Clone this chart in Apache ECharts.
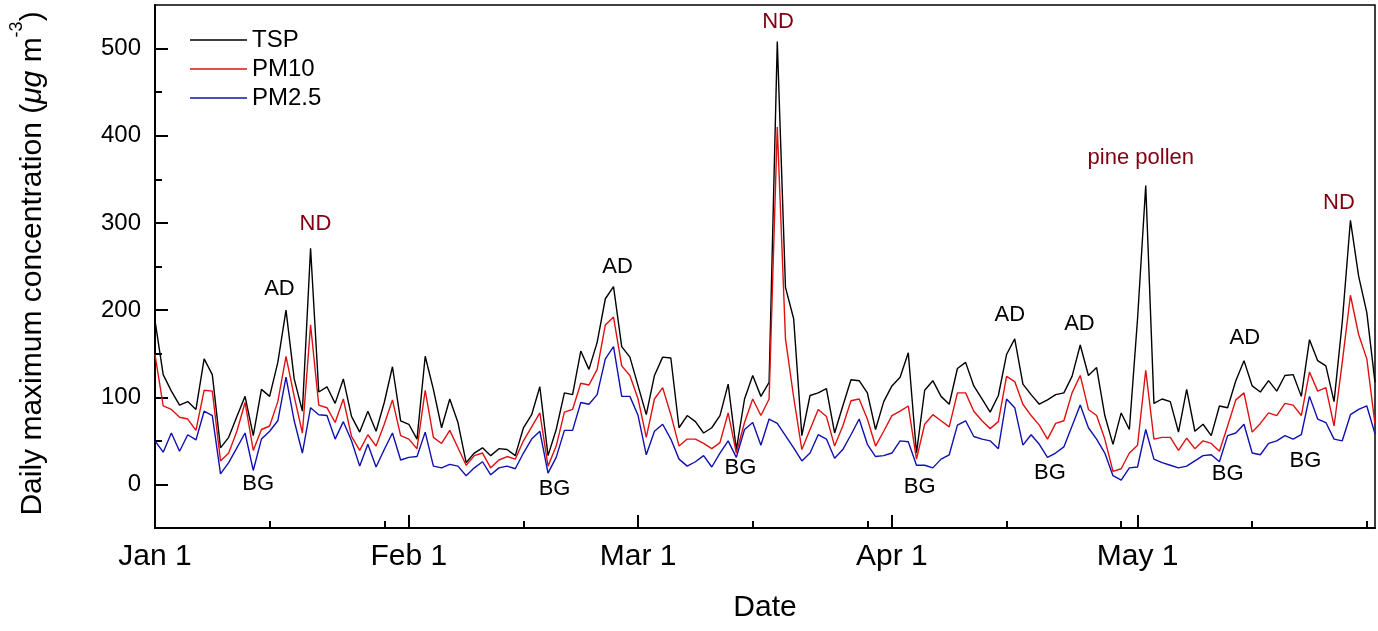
<!DOCTYPE html>
<html>
<head>
<meta charset="utf-8">
<script src="https://cdn.jsdelivr.net/npm/echarts@6/dist/echarts.min.js"></script>
<style>
html,body{margin:0;padding:0;background:#fff;}
#chart{width:1378px;height:631px;}
</style>
</head>
<body>
<div id="chart"></div>
<script>
// Day offsets from Jan 1 (index = day number)
const monthTicks = [0, 31, 59, 90, 120];
const monthLabels = ['Jan 1', 'Feb 1', 'Mar 1', 'Apr 1', 'May 1'];
const minorDayTicks = [14, 28, 45, 73, 87, 104, 118, 134, 148];
const yMajorTicks = [0, 100, 200, 300, 400, 500];
const yMinorTicks = [50, 150, 250, 350, 450];

const tsp = [188,126,107,91,95,86,144,126,42,54,78,101,56,109,101,140,200,121,84,271,
106,112,93,121,78,60,84,61,94,135,73,69,52,147,109,65,98,71,25,36,
42,33,41,40,33,65,80,112,33,63,105,103,153,132,163,213,227,158,146,113,
80,125,146,145,65,79,72,59,65,79,115,40,98,125,101,117,508,226,190,56,
102,105,110,59,90,120,119,105,63,95,113,123,151,36,108,119,101,92,133,140,
113,98,83,102,149,167,115,103,92,97,103,105,124,160,125,134,79,46,82,63,
190,343,93,98,95,60,109,61,69,56,90,88,119,142,113,106,119,107,125,126,
101,166,142,136,95,186,303,239,197,117];

const pm10 = [149,90,86,77,75,62,108,107,27,36,61,94,39,63,67,95,147,101,59,183,
91,88,71,98,55,39,57,44,69,97,56,52,41,108,54,47,62,42,22,33,
36,19,28,32,29,50,66,82,21,44,83,86,116,114,132,183,192,136,125,98,
54,98,111,80,44,52,52,47,41,48,82,36,71,98,79,98,410,167,100,40,
63,86,78,44,67,96,98,75,44,61,79,84,90,29,69,80,73,66,105,105,
84,73,64,72,124,118,92,79,68,52,70,73,105,125,86,79,52,15,18,36,
45,131,52,54,54,39,53,41,50,47,38,67,97,105,60,70,82,79,93,91,
79,129,107,111,67,140,217,172,144,69];

const pm25 = [50,37,59,38,57,51,84,79,12,25,42,59,16,52,61,73,123,73,36,88,
80,79,52,72,50,21,46,20,40,59,28,31,32,60,21,19,23,21,10,19,
26,11,19,21,18,36,52,61,13,31,62,62,94,92,103,144,158,101,101,79,
34,61,69,52,29,21,26,33,20,36,50,31,63,71,45,75,70,56,42,27,
36,57,52,30,40,57,75,46,32,33,36,50,49,22,22,19,29,34,68,73,
55,52,50,41,98,88,45,57,46,31,36,43,67,91,65,52,36,10,5,19,
20,63,29,25,22,19,21,27,33,34,26,56,59,69,36,34,47,50,56,52,
57,101,75,71,52,50,80,86,90,58];

// Annotation labels: [text, day, value, colour]
const annotations = [
  ['AD', 15.2, 224, '#000'],
  ['ND', 19.6, 299, '#800010'],
  ['BG', 12.6, 1, '#000'],
  ['BG', 48.8, -5, '#000'],
  ['AD', 56.5, 250, '#000'],
  ['ND', 76.1, 530, '#800010'],
  ['BG', 71.5, 19, '#000'],
  ['BG', 93.4, -3, '#000'],
  ['AD', 104.4, 195, '#000'],
  ['AD', 112.9, 184, '#000'],
  ['BG', 109.3, 13, '#000'],
  ['pine pollen', 120.4, 375, '#800010'],
  ['AD', 133.1, 168, '#000'],
  ['BG', 131, 12, '#000'],
  ['ND', 144.6, 323, '#800010'],
  ['BG', 140.5, 27, '#000']
];

const FONT = '"Liberation Sans", Arial, sans-serif';
const LEGEND_LINE = 'path://M0,0 L570,0 L570,14 L0,14 Z';
const toPairs = arr => arr.map((v, i) => [i, v]);

const chart = echarts.init(document.getElementById('chart'), null, {renderer: 'canvas'});

const option = {
  animation: false,
  backgroundColor: '#fff',
  textStyle: {fontFamily: FONT},
  grid: {left: 152, right: 3, top: 5, bottom: 103, show: true, borderColor: '#000', borderWidth: 1.5, containLabel: false},
  legend: {
    data: [{name: 'TSP', icon: LEGEND_LINE}, {name: 'PM10', icon: LEGEND_LINE}, {name: 'PM2.5', icon: LEGEND_LINE}],
    orient: 'vertical',
    left: 185, top: 23,
    itemWidth: 57, itemHeight: 14, itemGap: 5,
    textStyle: {fontSize: 24, color: '#000', fontFamily: FONT}
  },
  xAxis: [{
    type: 'value', min: 0, max: 149,
    name: 'Date', nameLocation: 'middle', nameGap: 65,
    nameTextStyle: {fontSize: 30, color: '#000', fontFamily: FONT},
    axisLine: {show: true, onZero: false, lineStyle: {color: '#000', width: 2}},
    axisTick: {show: true, inside: true, length: 13, customValues: monthTicks, lineStyle: {color: '#000', width: 2}},
    axisLabel: {show: true, customValues: monthTicks, margin: 14, fontSize: 30, color: '#000', fontFamily: FONT,
      formatter: v => monthLabels[monthTicks.indexOf(v)] || ''},
    splitLine: {show: false}
  }, {
    type: 'value', min: 0, max: 149, position: 'bottom',
    axisLine: {show: false, onZero: false},
    axisTick: {show: true, inside: true, length: 7, customValues: minorDayTicks, lineStyle: {color: '#000', width: 2}},
    axisLabel: {show: false},
    splitLine: {show: false}
  }],
  yAxis: [{
    type: 'value', min: -50, max: 550, position: 'left',
    name: '{t|Daily maximum concentration (}{i|\u03BCg}{t| m}{s|-3}{t|)}',
    nameLocation: 'middle', nameGap: 107, nameRotate: 90,
    nameTextStyle: {
      fontSize: 30, color: '#000', fontFamily: FONT, padding: [0, 0, 0, 6],
      rich: {
        t: {fontSize: 30, fontFamily: FONT, color: '#000', lineHeight: 40, verticalAlign: 'bottom'},
        i: {fontSize: 30, fontFamily: FONT, fontStyle: 'italic', color: '#000', lineHeight: 40, verticalAlign: 'bottom'},
        s: {fontSize: 18, fontFamily: FONT, color: '#000', lineHeight: 40, verticalAlign: 'top'}
      }
    },
    axisLine: {show: true, onZero: false, lineStyle: {color: '#000', width: 2}},
    axisTick: {show: true, inside: true, length: 13, customValues: yMajorTicks, lineStyle: {color: '#000', width: 2}},
    axisLabel: {show: true, customValues: yMajorTicks, margin: 14, fontSize: 24, color: '#000', fontFamily: FONT},
    splitLine: {show: false}
  }, {
    type: 'value', min: -50, max: 550, position: 'left',
    axisLine: {show: false, onZero: false},
    axisTick: {show: true, inside: true, length: 7, customValues: yMinorTicks, lineStyle: {color: '#000', width: 2}},
    axisLabel: {show: false},
    splitLine: {show: false}
  }],
  series: [
    {name: 'TSP', type: 'line', data: toPairs(tsp), showSymbol: false, symbol: 'none',
      lineStyle: {color: '#000', width: 1.4}, itemStyle: {color: '#000'}, z: 3},
    {name: 'PM10', type: 'line', data: toPairs(pm10), showSymbol: false, symbol: 'none',
      lineStyle: {color: '#e01010', width: 1.4}, itemStyle: {color: '#e01010'}, z: 4},
    {name: 'PM2.5', type: 'line', data: toPairs(pm25), showSymbol: false, symbol: 'none',
      lineStyle: {color: '#1010b0', width: 1.4}, itemStyle: {color: '#1010b0'}, z: 5},
    {name: 'notes', type: 'scatter', symbolSize: 1, silent: true, z: 10,
      itemStyle: {opacity: 0},
      data: annotations.map(a => ({name: a[0], value: [a[1], a[2]],
        label: {show: true, position: 'inside', formatter: a[0], fontSize: 22, color: a[3], opacity: 1, fontFamily: FONT}}))}
  ]
};
chart.setOption(option);
</script>
</body>
</html>
